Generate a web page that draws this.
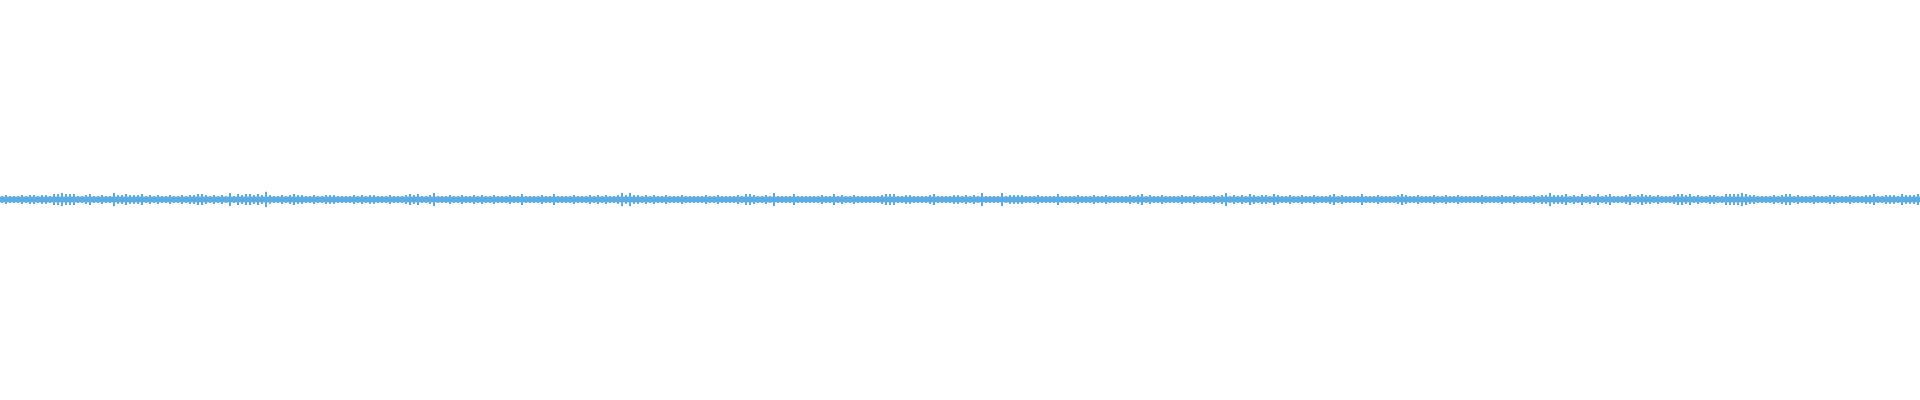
<!DOCTYPE html>
<html>
<head>
<meta charset="utf-8">
<script src="https://cdn.jsdelivr.net/npm/d3@7"></script>
<style>
  html, body { margin: 0; padding: 0; background: #fff; }
  svg { display: block; }
</style>
</head>
<body>
<script>
// peak amplitude per 4px column in six 320px strips
const seg1 = [
  3,4,3,3,3,4,3,4,4,3,4,4,3,5,5,6,5,5,5,3,
  3,4,5,3,3,4,3,3,6,4,4,5,4,4,4,5,3,4,3,4,
  3,3,4,3,3,4,3,4,4,5,5,4,3,4,3,4,3,6,3,5,
  4,5,5,4,5,4,7,4,3,3,4,3,4,5,4,4,3,3,4,3
];
const seg2 = [
  3,4,4,4,3,3,3,3,4,3,4,3,4,4,3,3,3,4,3,3,
  3,4,5,4,5,3,3,4,6,3,3,3,4,3,3,4,3,3,4,3,
  4,3,3,4,3,3,3,4,3,3,5,3,3,3,3,4,3,3,5,3,
  3,3,3,4,3,3,3,4,3,4,3,4,3,3,4,6,4,6,4,4
];
const seg3 = [
  3,4,3,4,3,3,4,3,3,3,4,3,3,3,3,3,4,3,3,4,
  3,3,3,3,4,3,5,5,4,3,3,4,3,6,3,3,3,3,5,3,
  3,3,3,3,3,4,3,3,5,3,4,3,3,4,3,3,3,3,3,3,
  4,5,5,5,3,3,4,4,3,3,3,3,4,5,3,3,3,3,4,4
];
const seg4 = [
  3,4,3,4,3,6,3,3,3,3,6,3,4,4,4,4,3,3,3,4,
  3,3,3,3,5,3,3,3,3,4,3,3,3,4,3,3,4,3,3,3,
  3,3,4,3,4,5,3,4,3,3,4,3,3,3,3,4,3,3,4,3,
  3,3,3,4,3,4,6,3,4,3,4,3,5,4,3,4,4,3,5,4
];
const seg5 = [
  3,3,4,3,3,4,3,3,4,3,3,3,4,5,3,4,3,3,3,3,
  5,3,3,3,4,3,3,3,3,4,5,4,3,3,4,3,3,3,4,3,
  3,4,3,3,4,3,3,3,3,3,4,3,3,3,3,4,3,3,4,3,
  3,3,3,4,3,4,4,6,4,4,4,5,3,4,3,5,3,4,3,5
];
const seg6 = [
  3,4,5,3,3,3,4,5,3,4,5,4,4,3,4,3,3,3,4,5,
  5,4,5,3,4,3,3,4,4,3,3,5,5,5,5,6,5,4,4,3,
  3,3,3,4,3,4,5,5,3,4,3,3,3,4,3,3,3,4,4,3,
  3,3,4,3,3,3,4,4,5,3,3,4,4,4,3,5,4,4,4,5
];
const coreLevel = 2.6;

const peaks = [].concat(seg1, seg2, seg3, seg4, seg5, seg6);

const width = 1920,
  height = 400;
const waveColor = "#5dade2";

const svg = d3
  .select("body")
  .append("svg")
  .attr("width", width)
  .attr("height", height);

const x = d3
  .scaleBand()
  .domain(d3.range(peaks.length))
  .range([0, width])
  .padding(0);

const y = d3
  .scaleLinear()
  .domain([-8, 8])
  .range([199.5 + 8.8, 199.5 - 8.8]);

const g = svg.append("g").attr("fill", waveColor);

// solid core band
g.selectAll(".core")
  .data(peaks)
  .enter()
  .append("rect")
  .attr("class", "core")
  .attr("x", (d, i) => x(i))
  .attr("width", x.bandwidth())
  .attr("y", d => y(Math.min(d, coreLevel)))
  .attr("height", d => y(-Math.min(d, coreLevel)) - y(Math.min(d, coreLevel)));

// peaks sticking out of the band
g.selectAll(".peak")
  .data(peaks)
  .enter()
  .append("rect")
  .attr("class", "peak")
  .attr("x", (d, i) => x(i) + 1)
  .attr("width", 2)
  .attr("y", d => y(d))
  .attr("height", d => y(-d) - y(d));
</script>
</body>
</html>
